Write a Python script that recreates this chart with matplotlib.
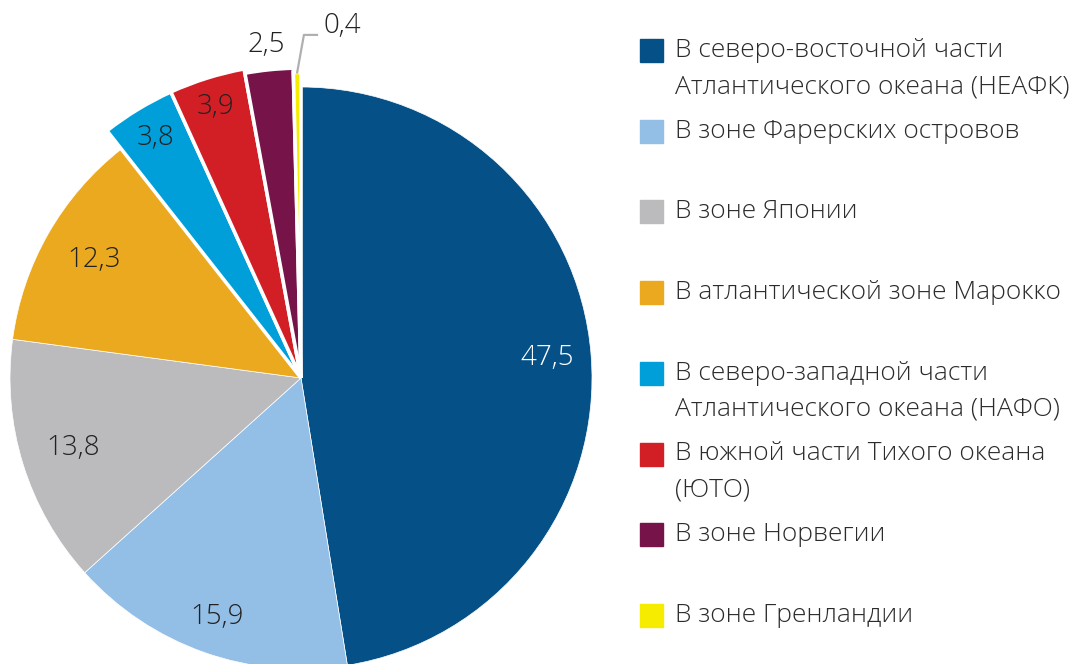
import numpy as np
import matplotlib
matplotlib.use("Agg")
import matplotlib.pyplot as plt
from matplotlib.patches import Rectangle

plt.rcParams['font.family'] = ['Open Sans', 'DejaVu Sans']

# доли вылова, %
values = [47.5, 15.9, 13.8, 12.3, 3.8, 3.9, 2.5, 0.4]
labels = ["В северо-восточной части\nАтлантического океана (НЕАФК)",
          "В зоне Фарерских островов",
          "В зоне Японии",
          "В атлантической зоне Марокко",
          "В северо-западной части\nАтлантического океана (НАФО)",
          "В южной части Тихого океана\n(ЮТО)",
          "В зоне Норвегии",
          "В зоне Гренландии"]
colors = ["#055087", "#93bfe7", "#bbbbbd", "#eba920",
          "#009fda", "#d21f26", "#76144a", "#f6ec00"]
radii = [1, 1, 1, 1, 1.08, 1.08, 1.065, 1.05]
label_r = [0.85, 0.87, 0.82, 0.82, 0.965, 0.975, 1.15, None]
label_col = ["white"] + ["#222222"] * 7

W, H = 1075, 664
cx, cy, R = 301, 378, 291  # центр и радиус круга в пикселях

fig = plt.figure(figsize=(W / 100, H / 100), dpi=100)
ax = fig.add_axes([0, 0, 1, 1])

wedges, _ = ax.pie(values, colors=colors, startangle=90, counterclock=False,
                   wedgeprops=dict(edgecolor="white", linewidth=0.5))
for w, r in zip(wedges, radii):
    if r != 1:
        w.set_radius(r)
        w.set_linewidth(2.6)

ax.set_xlim(-cx / R, (W - cx) / R)
ax.set_ylim(-(H - cy) / R, cy / R)
ax.axis("off")

fmt = lambda v: ("%.1f" % v).replace(".", ",")

for w, v, lr, c in zip(wedges, values, label_r, label_col):
    ang = np.deg2rad((w.theta1 + w.theta2) / 2)
    if lr is None:
        # подпись с выноской
        r0 = w.r
        x0, y0 = r0 * np.cos(ang), r0 * np.sin(ang)
        ax.plot([x0, 0.010, 0.055], [y0, 1.179, 1.179], color="#b0b0b0",
                lw=1.6, clip_on=False)
        ax.text(0.076, 1.186, fmt(v), fontsize=20, fontweight="light",
                color=c, ha="left", va="baseline")
        continue
    ax.text(lr * np.cos(ang), lr * np.sin(ang), fmt(v), fontsize=20,
            fontweight="light", color=c, ha="center", va="center")

# легенда
y_first = 50.5
step = 80.7
for i, (lab, col) in enumerate(zip(labels, colors)):
    yc = y_first + i * step
    fig.patches.append(Rectangle((640 / W, 1 - (yc + 11.5) / H), 23 / W, 23 / H,
                                 transform=fig.transFigure, color=col))
    for j, line in enumerate(lab.split("\n")):
        fig.text(675 / W, 1 - (yc + 6.5 + j * 36) / H, line, fontsize=19,
                 fontweight="light", color="#2b2b2b", va="baseline", ha="left")

fig.savefig("out.png", dpi=100)
